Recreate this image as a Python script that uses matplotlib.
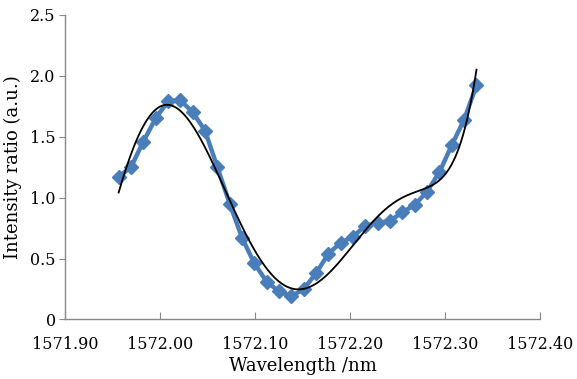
import matplotlib
matplotlib.use("Agg")
import numpy as np
import matplotlib.pyplot as plt
from matplotlib.ticker import FixedLocator, FuncFormatter

# Measured data (wavelength in nm, intensity ratio in a.u.)
wavelength = [1571.956, 1571.969, 1571.982, 1571.995, 1572.008, 1572.021,
              1572.034, 1572.047, 1572.060, 1572.073, 1572.086, 1572.099,
              1572.112, 1572.125, 1572.138, 1572.151, 1572.164, 1572.177,
              1572.190, 1572.203, 1572.216, 1572.229, 1572.242, 1572.255,
              1572.268, 1572.281, 1572.294, 1572.307, 1572.320, 1572.333]
intensity = [1.17, 1.25, 1.46, 1.65, 1.79, 1.80, 1.70, 1.55, 1.25, 0.95,
             0.67, 0.46, 0.31, 0.23, 0.19, 0.25, 0.38, 0.54, 0.63, 0.68,
             0.77, 0.79, 0.81, 0.88, 0.94, 1.05, 1.21, 1.43, 1.64, 1.92]

fit_order = 6

x_ticks = [1571.90, 1572.00, 1572.10, 1572.20, 1572.30, 1572.40]
y_ticks = [0, 0.5, 1.0, 1.5, 2.0, 2.5]

# Polynomial trend line of the measured data
xa = np.array(wavelength)
x0 = xa.mean()
coef = np.polyfit(xa - x0, np.array(intensity), fit_order)
xf = np.linspace(xa.min(), xa.max(), 300)
yf = np.polyval(coef, xf - x0)

plt.rcParams['font.family'] = ['DejaVu Serif']
fig = plt.figure(figsize=(5.77, 3.79), dpi=100)
ax = fig.add_axes([0.1135, 0.157, 0.8225, 0.804])

blue = '#4a7ebb'
gray = '#888888'
ax.plot(wavelength, intensity, color=blue, lw=3.2, marker='D', ms=7,
        mfc=blue, mec=blue, zorder=2)
ax.plot(xf, yf, color='black', lw=1.3, zorder=3)

ax.set_xlim(1571.90, 1572.40)
ax.set_ylim(0, 2.5)
ax.xaxis.set_major_locator(FixedLocator(x_ticks))
ax.yaxis.set_major_locator(FixedLocator(y_ticks))
ax.xaxis.set_major_formatter(FuncFormatter(lambda v, p: f"{v:.2f}"))
ax.yaxis.set_major_formatter(FuncFormatter(lambda v, p: "0" if v == 0 else f"{v:.1f}"))

for s in ['top', 'right']:
    ax.spines[s].set_visible(False)
for s in ['left', 'bottom']:
    ax.spines[s].set_color(gray)
    ax.spines[s].set_linewidth(1.0)

ax.tick_params(axis='x', direction='in', length=5, color=gray, labelsize=11.5, pad=12)
ax.tick_params(axis='y', direction='out', length=4, color=gray, labelsize=11.5, pad=3)

ax.set_xlabel('Wavelength /nm', fontsize=13, labelpad=3)
ax.set_ylabel('Intensity ratio (a.u.)', fontsize=13, labelpad=6)

fig.savefig('out.png', dpi=100, facecolor='white')
